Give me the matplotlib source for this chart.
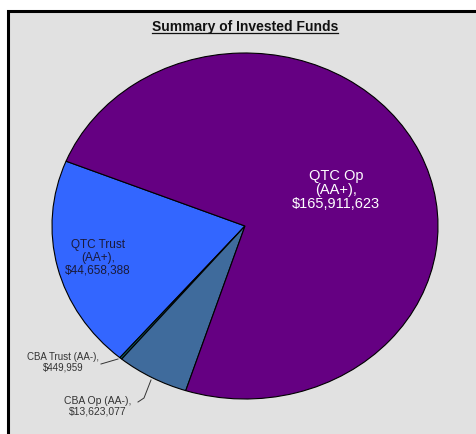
import matplotlib
matplotlib.use("Agg")
import matplotlib.pyplot as plt
from matplotlib.patches import Rectangle
from matplotlib.lines import Line2D

plt.rcParams['font.family'] = ['Liberation Sans', 'DejaVu Sans']

# Data (counter-clockwise order starting from upper-left)
categories = ["QTC Trust (AA+)", "CBA Trust (AA-)", "CBA Op (AA-)", "QTC Op (AA+)"]
values = [44658388, 449959, 13623077, 165911623]
colors = ["#3366ff", "#0b5d63", "#3f6b9c", "#650082"]
title = "Summary of Invested Funds"

W, H = 476, 434
fig = plt.figure(figsize=(W / 100, H / 100), dpi=100, facecolor="white")

# Chart area frame
frame = Rectangle((8 / W, -0.1), 1.2, (H - 11) / H + 0.1, transform=fig.transFigure,
                  facecolor="#e1e1e1", edgecolor="black", linewidth=2.2, zorder=-5)
fig.patches.append(frame)

cx, cy, rx, ry = 245, 226, 193, 173
ax = fig.add_axes([(cx - rx) / W, (H - cy - ry) / H, 2 * rx / W, 2 * ry / H], zorder=2)
ax.patch.set_visible(False)
ax.axis('off')

ax.pie(values, colors=colors, startangle=158, counterclock=True, radius=1,
       wedgeprops=dict(edgecolor="black", linewidth=0.8))
ax.set_xlim(-1, 1)
ax.set_ylim(-1, 1)
ax.set_aspect('auto')

def d(px, py):
    return ((px - cx) / rx, (cy - py) / ry)

def money(v):
    return "${:,}".format(v)

# Labels
x, y = d(336, 190)
ax.text(x, y, "QTC Op\n(AA+),\n" + money(values[3]), color="white", fontsize=10.5,
        ha="center", va="center", linespacing=1.0)
x, y = d(98, 258)
ax.text(x, y, "QTC Trust\n(AA+),\n" + money(values[0]), color="#1a1a3a", fontsize=8.5,
        ha="center", va="center", linespacing=1.1)
x, y = d(63, 362)
ax.text(x, y, "CBA Trust (AA-),\n" + money(values[1]), color="#333333", fontsize=7,
        ha="center", va="center", linespacing=1.05)
x, y = d(98, 406)
ax.text(x, y, "CBA Op (AA-),\n" + money(values[2]), color="#333333", fontsize=7.5,
        ha="center", va="center", linespacing=1.05)

# Leader lines
p = [d(101, 364), d(118, 359)]
ax.plot([p[0][0], p[1][0]], [p[0][1], p[1][1]], color="#333333", lw=0.7, clip_on=False)
p = [d(138, 402), d(144, 398), d(151, 380)]
ax.plot([q[0] for q in p], [q[1] for q in p], color="#333333", lw=0.7, clip_on=False)

# Title with underline
t = fig.text(245 / W, 1 - 27 / H, title, ha="center", va="center",
             fontsize=10, fontweight="bold", color="#111111")
fig.canvas.draw()
bb = t.get_window_extent(renderer=fig.canvas.get_renderer())
uy = (bb.y0 + 1) / H
fig.add_artist(Line2D([bb.x0 / W, bb.x1 / W], [uy, uy], transform=fig.transFigure,
                      color="#111111", lw=0.9))

fig.savefig("out.png", dpi=100, facecolor="white")
